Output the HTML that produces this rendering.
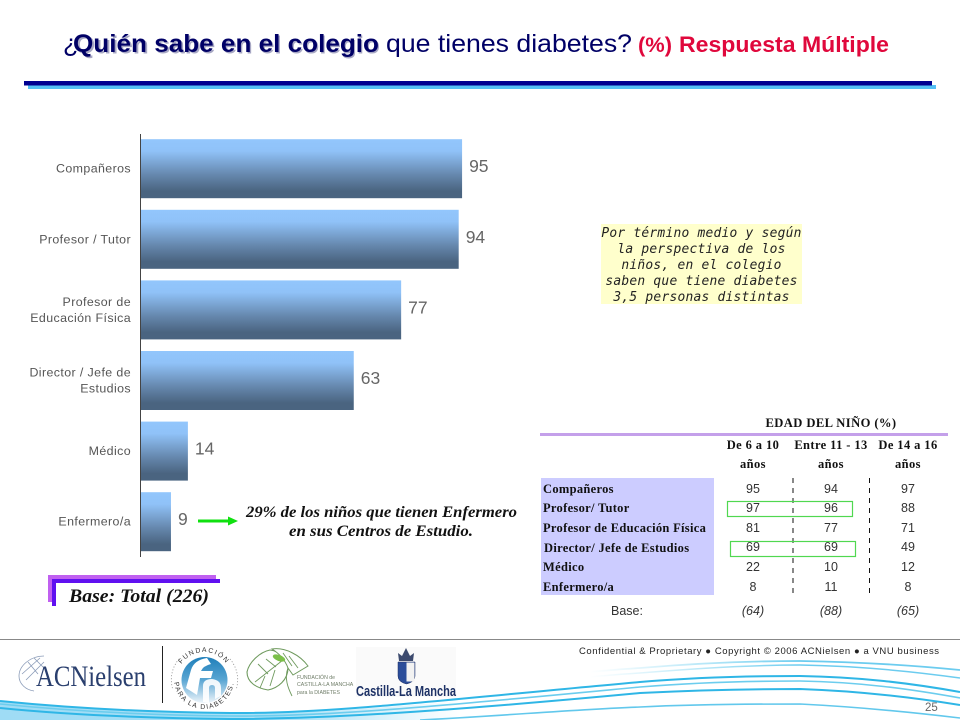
<!DOCTYPE html>
<html lang="es">
<head>
<meta charset="utf-8">
<title>Quién sabe en el colegio</title>
<style>
html,body{margin:0;padding:0;background:#fff}
#page{position:relative;width:960px;height:720px;overflow:hidden;background:#fff}
svg{position:absolute;left:0;top:0;display:block}
.sans{font-family:"Liberation Sans",sans-serif}
.serif{font-family:"Liberation Serif",serif}
.th{font-family:"Liberation Serif",serif;font-weight:bold;font-size:12.5px;fill:#111;text-anchor:middle;letter-spacing:.4px}
.rl{font-family:"Liberation Serif",serif;font-weight:bold;font-size:12.5px;fill:#111;letter-spacing:.3px}
.num{font-family:"Liberation Sans",sans-serif;font-size:12.5px;fill:#333;text-anchor:middle}
.base{font-family:"Liberation Sans",sans-serif;font-style:italic;font-size:12.5px;fill:#333;text-anchor:middle}
.note{font-family:"DejaVu Sans Mono",monospace;font-style:italic;font-size:12.9px;letter-spacing:.25px;fill:#222;text-anchor:middle}
</style>
</head>
<body>
<div id="page">
<svg id="slide-svg" width="960" height="720" viewBox="0 0 960 720" xmlns="http://www.w3.org/2000/svg">
<defs>
<linearGradient id="barFill" x1="0" y1="0" x2="0" y2="1">
<stop offset="0" stop-color="#92c6fc"/><stop offset=".2" stop-color="#90c2f8"/><stop offset=".6" stop-color="#6688ae"/><stop offset=".88" stop-color="#4a6480"/><stop offset="1" stop-color="#4a6480"/>
</linearGradient>
<linearGradient id="fdFill" x1="0" y1="0" x2="0" y2="1">
<stop offset="0" stop-color="#1f7fba"/><stop offset=".5" stop-color="#5aa6d3"/><stop offset="1" stop-color="#eef5fa"/>
</linearGradient>
<linearGradient id="leftBand" gradientUnits="userSpaceOnUse" x1="0" y1="0" x2="460" y2="0">
<stop offset="0" stop-color="#9fdcf5"/><stop offset=".6" stop-color="#a8e0f6"/><stop offset="1" stop-color="#a8e0f6" stop-opacity="0"/>
</linearGradient>
<linearGradient id="fadeIn" gradientUnits="userSpaceOnUse" x1="590" y1="0" x2="800" y2="0">
<stop offset="0" stop-color="#8adaf4" stop-opacity="0"/><stop offset="1" stop-color="#6cccef"/>
</linearGradient>
<path id="fd-top-arc" d="M177 679a27 27 0 0 1 54 0"/>
<path id="fd-bottom-arc" d="M174 679a30 30 0 0 0 60 0"/>
</defs>

<!-- Title -->
<g style="font-family:'Liberation Sans',sans-serif;font-size:25px">
<text x="63" y="52" fill="#000066">¿</text>
<text x="75" y="53.5" fill="#a8a8c4" font-weight="bold" textLength="305" lengthAdjust="spacingAndGlyphs" aria-hidden="true">Quién sabe en el colegio</text>
<text x="73" y="52" fill="#000066" font-weight="bold" textLength="306" lengthAdjust="spacingAndGlyphs">Quién sabe en el colegio</text>
<text x="386" y="52" fill="#000066" textLength="246" lengthAdjust="spacingAndGlyphs">que tienes diabetes?</text>
<text x="638" y="52" fill="#e0083c" font-weight="bold" font-size="21" textLength="34" lengthAdjust="spacingAndGlyphs">(%)</text>
<text x="679" y="52" fill="#e0083c" font-weight="bold" font-size="22.5" textLength="210" lengthAdjust="spacingAndGlyphs">Respuesta Múltiple</text>
</g>
<rect x="28" y="85" width="908" height="4" fill="#55c0f5"/>
<rect x="24" y="81" width="908" height="4.5" fill="#000090"/>

<!-- Chart -->
<g id="chart"></g>

<!-- Annotation -->
<line x1="198" y1="521" x2="230" y2="521" stroke="#10e010" stroke-width="3"/>
<polygon points="228,516.5 238,521 228,525.5" fill="#10e010"/>
<g class="serif" font-style="italic" font-weight="bold" font-size="15.5" fill="#111">
<text x="246" y="517" textLength="271" lengthAdjust="spacingAndGlyphs">29% de los niños que tienen Enfermero</text>
<text x="289" y="536" textLength="184" lengthAdjust="spacingAndGlyphs">en sus Centros de Estudio.</text>
</g>

<!-- Base box -->
<g>
<rect x="48" y="575" width="168" height="4" fill="#c060f0"/>
<rect x="48" y="575" width="4" height="27" fill="#c060f0"/>
<rect x="52" y="579" width="168" height="4" fill="#6010f0"/>
<rect x="52" y="579" width="4" height="27" fill="#6010f0"/>
<text class="serif" x="69" y="602" font-style="italic" font-weight="bold" font-size="19" fill="#111" textLength="140" lengthAdjust="spacingAndGlyphs">Base: Total (226)</text>
</g>

<!-- Note -->
<g>
<rect x="601" y="224" width="201" height="80" fill="#ffffcc"/>
<text class="note" x="701.5" y="237">Por término medio y según</text>
<text class="note" x="701.5" y="253">la perspectiva de los</text>
<text class="note" x="701.5" y="269">niños, en el colegio</text>
<text class="note" x="701.5" y="285">saben que tiene diabetes</text>
<text class="note" x="701.5" y="301">3,5 personas distintas</text>
</g>

<!-- Table -->
<g>
<text class="th" x="831" y="427" textLength="131" lengthAdjust="spacingAndGlyphs">EDAD DEL NIÑO (%)</text>
<rect x="540" y="433" width="408" height="3" fill="#c4a0ea"/>
<text class="th" x="753" y="449">De 6 a 10</text>
<text class="th" x="753" y="468">años</text>
<text class="th" x="831" y="449">Entre 11 - 13</text>
<text class="th" x="831" y="468">años</text>
<text class="th" x="908" y="449">De 14 a 16</text>
<text class="th" x="908" y="468">años</text>
<rect x="541" y="478" width="173" height="117" fill="#ccccff"/>
<line x1="793" y1="478" x2="793" y2="596" stroke="#111" stroke-dasharray="5 5"/>
<line x1="869.5" y1="478" x2="869.5" y2="596" stroke="#111" stroke-dasharray="5 5"/>
<text class="rl" x="543" y="493">Compañeros</text>
<text class="rl" x="543" y="512">Profesor/ Tutor</text>
<text class="rl" x="543" y="532">Profesor de Educación Física</text>
<text class="rl" x="544" y="552">Director/ Jefe de Estudios</text>
<text class="rl" x="543" y="571">Médico</text>
<text class="rl" x="543" y="591">Enfermero/a</text>
<text class="num" x="753" y="493">95</text>
<text class="num" x="831" y="493">94</text>
<text class="num" x="908" y="493">97</text>
<text class="num" x="753" y="512">97</text>
<text class="num" x="831" y="512">96</text>
<text class="num" x="908" y="512">88</text>
<text class="num" x="753" y="532">81</text>
<text class="num" x="831" y="532">77</text>
<text class="num" x="908" y="532">71</text>
<text class="num" x="753" y="551">69</text>
<text class="num" x="831" y="551">69</text>
<text class="num" x="908" y="551">49</text>
<text class="num" x="753" y="571">22</text>
<text class="num" x="831" y="571">10</text>
<text class="num" x="908" y="571">12</text>
<text class="num" x="753" y="591">8</text>
<text class="num" x="831" y="591">11</text>
<text class="num" x="908" y="591">8</text>
<rect x="727.5" y="501.5" width="125" height="15" fill="none" stroke="#50d850" stroke-width="1.2"/>
<rect x="730.5" y="541.5" width="125" height="15" fill="none" stroke="#50d850" stroke-width="1.2"/>
<text class="base" x="627" y="615" style="font-style:normal">Base:</text>
<text class="base" x="753" y="615">(64)</text>
<text class="base" x="831" y="615">(88)</text>
<text class="base" x="908" y="615">(65)</text>
</g>

<!-- Footer -->
<g>
<g fill="none">
<path d="M0 701C60 707 130 712 230 713C300 714 380 708 460 701V720H0Z" fill="url(#leftBand)"/>
<path d="M0 701C60 707 130 712 230 713C330 714 450 699 640 682C700 677 760 676 800 676C860 677 910 683 960 692" stroke="#2fb6e6" stroke-width="2"/>
<path d="M0 704C60 710 130 715 230 716C330 717 450 705 640 687C700 682 760 681 800 681C860 682 910 689 960 698" stroke="#6ccdee" stroke-width="1.6"/>
<path d="M0 708C60 714 130 718 230 719C340 719 480 708 640 693C700 690 760 689 800 689C860 691 910 697 960 705" stroke="#2fb6e6" stroke-width="2"/>
<path d="M420 720C500 716 580 709 640 707C700 704 760 704 800 704C860 707 910 712 960 718" stroke="#62c8ec" stroke-width="1.6"/>
<path d="M590 672C610 670 625 669 640 668C700 663 760 661 800 661C860 662 910 665 960 670" stroke="url(#fadeIn)" stroke-width="1.8"/>
<path d="M590 677C610 675 625 674 640 673C700 668 760 665 800 665C860 666 910 671 960 678" stroke="url(#fadeIn)" stroke-width="1.5"/>
</g>
<rect x="0" y="639" width="960" height="1" fill="#888"/>
<text class="sans" x="579" y="654" font-size="9.5" fill="#222" textLength="360" lengthAdjust="spacing">Confidential &amp; Proprietary ● Copyright © 2006 ACNielsen ● a VNU business</text>
<text class="sans" x="925" y="711" font-size="11.5" fill="#666">25</text>
<rect x="162" y="646" width="1" height="57" fill="#222"/>

<g>
<g fill="none" stroke="#8a9bb8" stroke-width=".8">
<path d="M44 656C30 656 19 666 19 676C19 684 26 690 34 691"/>
<path d="M22 674L40 658M26 680L44 662M28 662L38 674M34 658L44 668"/>
</g>
<text class="serif" x="36" y="686" font-size="30" fill="#2a3f6e" textLength="110" lengthAdjust="spacingAndGlyphs">ACNielsen</text>
</g>

<g>
<path d="M179 659A32 32 0 0 0 173 690" fill="none" stroke="#888" stroke-width=".8" stroke-dasharray="1 2"/>
<path d="M230 659A32 32 0 0 1 236 690" fill="none" stroke="#888" stroke-width=".8" stroke-dasharray="1 2"/>
<circle cx="204.5" cy="680" r="23" fill="url(#fdFill)"/>
<path d="M186 688L191 670Q194 660 207 658L211 664Q203 666 201 671H213L211 678H200L197 695Z" fill="#fff"/>
<path d="M203 702V686Q203 679 212 679Q221 680 221 688V696L215 699V688Q215 685 212 685Q209 685 209 688V703Z" fill="#fff" opacity=".9"/>
<text font-size="6.8" fill="#333" class="sans" letter-spacing="1.4"><textPath href="#fd-top-arc" startOffset="50%" text-anchor="middle">FUNDACIÓN</textPath></text>
<text font-size="6.8" fill="#333" class="sans" letter-spacing="1.3"><textPath href="#fd-bottom-arc" startOffset="50%" text-anchor="middle">PARA LA DIABETES.</textPath></text>
</g>

<g>
<path d="M247 672C249 662 260 652 270 650C280 651 287 660 288 668C288 680 278 688 268 690C256 688 247 682 247 672Z" fill="#fff" stroke="#6f9a5e" stroke-width="1.1"/>
<path d="M272 649C285 647 300 655 308 666L293 675L288 668C285 660 280 654 272 649Z" fill="#fff" stroke="#6f9a5e" stroke-width="1"/>
<path d="M255 682L283 660M258 664L268 674M266 659L276 667M260 688L265 676M270 686L275 670M288 668C284 678 288 688 292 696M289 656L298 668M283 653L292 666" fill="none" stroke="#6f9a5e" stroke-width=".9"/>
<ellipse cx="279" cy="658" rx="6.5" ry="3" transform="rotate(20 279 658)" fill="#7cc04a"/>
<g class="sans" font-size="5.2" fill="#6f7d68">
<text x="297" y="679">FUNDACIÓN de</text>
<text x="297" y="686">CASTILLA-LA MANCHA</text>
<text x="297" y="694">para la DIABETES</text>
</g>
</g>

<g>
<rect x="356" y="647" width="100" height="50" fill="#fafafa"/>
<path d="M399 661L398 653L402 656L406 648L410 656L414 653L413 661Z" fill="#3c4a6e"/>
<path d="M398 662H415V676Q415 682 406.5 684Q398 682 398 676Z" fill="#2b4d9a" stroke="#1e2e60" stroke-width=".5"/>
<rect x="406.5" y="662.5" width="8" height="19" fill="#f2f2f2"/>
<text class="sans" x="356" y="696" font-size="14.5" font-weight="bold" fill="#1e3266" textLength="100" lengthAdjust="spacingAndGlyphs">Castilla-La Mancha</text>
</g>
</g>
</svg>
</div>

<script>
var categories = [["Compañeros"], ["Profesor / Tutor"], ["Profesor de", "Educación Física"], ["Director / Jefe de", "Estudios"], ["Médico"], ["Enfermero/a"]];
var seriesValues = [95, 94, 77, 63, 14, 9];
var valueLabels = ["95", "94", "77", "63", "14", "9"];

var SVGNS = "http://www.w3.org/2000/svg";
var chartGroup = document.getElementById("chart");
var AXIS_X = 140.5, PX_PER_UNIT = 3.385, BAND_TOP = 133.4, BAND_H = 70.6, BAR_H = 59;
function xScale(v) { return AXIS_X + v * PX_PER_UNIT; }
function bandY(i) { return BAND_TOP + i * BAND_H; }

categories.forEach(function (lines, i) {
  var top = bandY(i);
  var mid = top + BAND_H / 2;

  var bar = document.createElementNS(SVGNS, "rect");
  bar.setAttribute("x", AXIS_X);
  bar.setAttribute("y", top + (BAND_H - BAR_H) / 2);
  bar.setAttribute("width", xScale(seriesValues[i]) - AXIS_X);
  bar.setAttribute("height", BAR_H);
  bar.setAttribute("fill", "url(#barFill)");
  
  
  chartGroup.appendChild(bar);

  var value = document.createElementNS(SVGNS, "text");
  value.setAttribute("x", xScale(seriesValues[i]) + 7);
  value.setAttribute("y", mid + 3.5);
  value.setAttribute("font-family", '"Liberation Sans", sans-serif');
  value.setAttribute("font-size", "17.5");
  value.setAttribute("fill", "#666");
  value.textContent = valueLabels[i];
  
  
  chartGroup.appendChild(value);

  lines.forEach(function (line, j) {
    var label = document.createElementNS(SVGNS, "text");
    label.setAttribute("x", 131);
    label.setAttribute("y", mid + 4 + (j - (lines.length - 1) / 2) * 16);
    label.setAttribute("text-anchor", "end");
    label.setAttribute("font-family", '"Liberation Sans", sans-serif');
    label.setAttribute("font-size", "12.4");
    label.setAttribute("letter-spacing", ".4");
    label.setAttribute("fill", "#555");
    label.textContent = line;
    
    
    chartGroup.appendChild(label);
  });
});

var axis = document.createElementNS(SVGNS, "line");
axis.setAttribute("x1", AXIS_X);
axis.setAttribute("x2", AXIS_X);
axis.setAttribute("y1", 134);
axis.setAttribute("y2", 557);
axis.setAttribute("stroke", "#444");
axis.setAttribute("stroke-width", "1");


chartGroup.appendChild(axis);
</script>
</body>
</html>
